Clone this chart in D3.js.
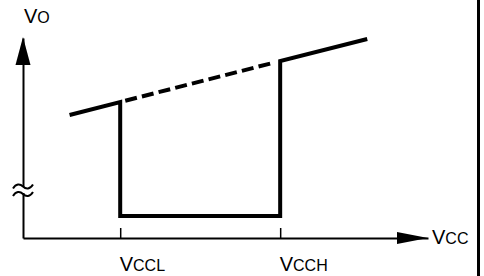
<!DOCTYPE html>
<html>
<head>
<meta charset="utf-8">
<script src="https://cdn.jsdelivr.net/npm/d3@7"></script>
<style>
  body { margin: 0; background: #fff; }
  svg { display: block; font-family: "Liberation Sans", Arial, sans-serif; }
</style>
</head>
<body>
<svg id="chart"></svg>
<script>
const width = 484;
const height = 276;

// threshold supply voltages (arbitrary units, 0..100)
const thresholdNames = ['CCL', 'CCH'];
const thresholdVcc = [24, 63.5];

// output ramp: Vcc vs Vo
const rampVcc = [11.5, 24, 63.5, 85];
const rampVo = [61.5, 68, 88.5, 99.5];

// output level while in the window
const lowVo = 11;

const svg = d3.select('#chart')
            .attr('width', width)
            .attr('height', height);

const x = d3.scaleLinear().domain([0, 100]).range([23, 428]);
const y = d3.scaleLinear().domain([0, 100]).range([238, 38]);

// axes
const xAxis = svg.append('g').attr('transform', `translate(0, ${y(0)})`)
    .call(d3.axisBottom(x)
        .tickValues(thresholdVcc)
        .tickSizeInner(-10)
        .tickSizeOuter(0)
        .tickPadding(0));

xAxis.select('.domain').attr('stroke-width', 2);
xAxis.selectAll('.tick line').attr('stroke-width', 1.5);
xAxis.selectAll('.tick text').each(function(d, i) {
    const t = d3.select(this)
        .text(null)
        .attr('fill', '#000')
        .attr('text-anchor', 'start')
        .attr('dy', null)
        .attr('x', -1)
        .attr('y', 33)
        .attr('font-size', 20);
    t.append('tspan').text('V');
    t.append('tspan').attr('font-size', 16).text(thresholdNames[i]);
});

const yAxis = svg.append('g').attr('transform', `translate(${x(0)}, 0)`)
    .call(d3.axisLeft(y).tickValues([]).tickSizeOuter(0));
yAxis.select('.domain').attr('stroke-width', 2);

// arrow heads
svg.append('path')
    .attr('d', `M${x(0)},${y(100) - 1} L${x(0) - 7.5},${y(100) + 27} L${x(0) + 7.5},${y(100) + 27} Z`)
    .attr('fill', '#000');
svg.append('path')
    .attr('d', `M${x(100)},${y(0)} L${x(100) - 31},${y(0) - 6} L${x(100) - 31},${y(0) + 6} Z`)
    .attr('fill', '#000');

// axis break mark
const bx = x(0), by = 190;
svg.append('rect')
    .attr('x', bx - 3).attr('y', by - 3)
    .attr('width', 6).attr('height', 6)
    .attr('fill', '#fff');
[by - 3.5, by + 4].forEach(yy => {
    svg.append('path')
        .attr('d', `M${bx - 10},${yy + 2} C${bx - 7},${yy - 3} ${bx - 3},${yy - 3} ${bx},${yy} S${bx + 7},${yy + 3} ${bx + 10},${yy - 2}`)
        .attr('fill', 'none')
        .attr('stroke', '#000')
        .attr('stroke-width', 2);
});

// axis titles
const voLabel = svg.append('text')
    .attr('x', x(0) + 1)
    .attr('y', 23)
    .attr('font-size', 20);
voLabel.append('tspan').text('V');
voLabel.append('tspan').attr('font-size', 16).text('O');

const vccLabel = svg.append('text')
    .attr('x', x(100) + 4)
    .attr('y', y(0) + 6)
    .attr('font-size', 20);
vccLabel.append('tspan').text('V');
vccLabel.append('tspan').attr('font-size', 16).text('CC');

// output characteristic
const line = d3.line().x(d => x(d[0])).y(d => y(d[1]));

const solidPts = [
    [rampVcc[0], rampVo[0]],
    [rampVcc[1], rampVo[1]],
    [thresholdVcc[0], lowVo],
    [thresholdVcc[1], lowVo],
    [rampVcc[2], rampVo[2]],
    [rampVcc[3], rampVo[3]]
];

svg.append('path')
    .datum(solidPts)
    .attr('d', line)
    .attr('fill', 'none')
    .attr('stroke', '#000')
    .attr('stroke-width', 4)
    .attr('stroke-linejoin', 'miter');

// dashed continuation between thresholds
const dash = 12, gap = 5.2;
const pattern = [0, gap];
d3.range(9).forEach(i => pattern.push(dash, i < 8 ? gap : 40));

svg.append('path')
    .datum([[rampVcc[1], rampVo[1]], [rampVcc[2], rampVo[2]]])
    .attr('d', line)
    .attr('fill', 'none')
    .attr('stroke', '#000')
    .attr('stroke-width', 4)
    .attr('stroke-dasharray', pattern.join(','));

// frame edge on the right
svg.append('line')
    .attr('x1', 478.5).attr('x2', 478.5)
    .attr('y1', 0).attr('y2', height)
    .attr('stroke', '#000')
    .attr('stroke-width', 3);
</script>
</body>
</html>
